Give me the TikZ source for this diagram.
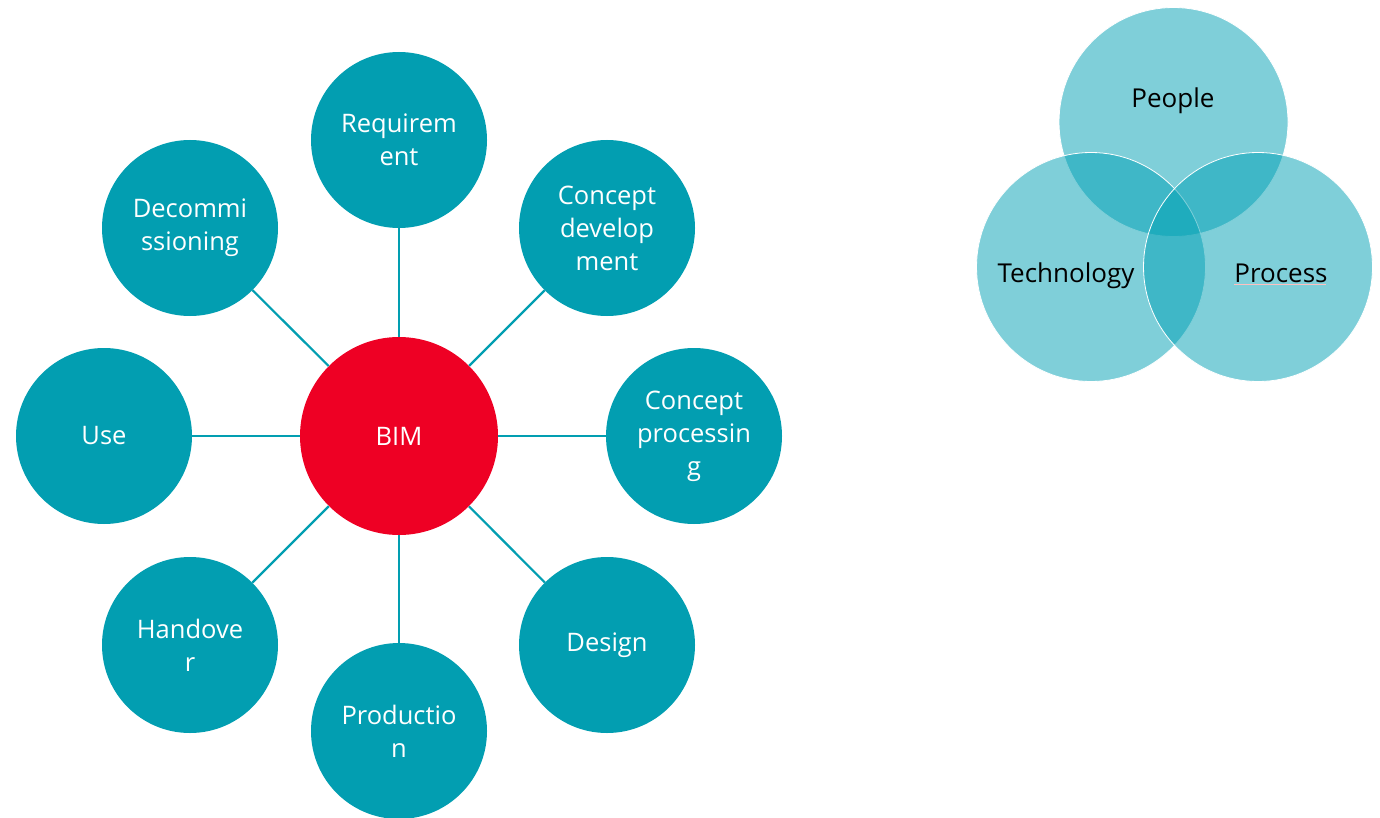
\documentclass[tikz,border=0pt]{standalone}
\usepackage{fontspec}
\setmainfont{Open Sans}
\definecolor{teal1}{RGB}{2,158,177}
\definecolor{bimred}{RGB}{238,0,36}
\definecolor{venn}{RGB}{0,160,180}
\begin{document}
\begin{tikzpicture}[x=1pt,y=-1pt,
  stage/.style={circle,fill=teal1,minimum size=176pt,inner sep=0pt,text=white,align=center,font=\fontsize{25.5}{33}\selectfont},
  hub/.style={circle,fill=bimred,minimum size=198pt,inner sep=0pt,text=white,font=\fontsize{25.5}{33}\selectfont},
  link/.style={draw=teal1,line width=2.2pt},
  vennc/.style={fill=venn,fill opacity=0.5,draw=white,draw opacity=1,line width=0.8pt},
  vlabel/.style={text=black,anchor=base,inner sep=0pt,font=\fontsize{26}{33}\selectfont}]
\useasboundingbox (0,0) rectangle (1380,818);
\node[hub] (bim) at (399,436) {BIM};
\node[stage] (req) at (399,140) {Requirem\\ent};
\node[stage] (cdev) at (607,228) {Concept\\develop\\ment};
\node[stage] (cproc) at (694,436) {Concept\\processin\\g};
\node[stage] (design) at (607,645) {Design};
\node[stage] (prod) at (399,731) {Productio\\n};
\node[stage] (hand) at (190,645) {Handove\\r};
\node[stage] (use) at (104,436) {Use};
\node[stage] (decom) at (190,228) {Decommi\\ssioning};
\foreach \n in {req,cdev,cproc,design,prod,hand,use,decom}
  \draw[link] (bim) -- (\n);
% Venn diagram
\path[vennc] (1173.5,122) circle (114.5pt);
\path[vennc] (1091,267) circle (114.5pt);
\path[vennc] (1258,267) circle (114.5pt);
\node[vlabel] (people) at (1173,108) {People};
\node[vlabel] (tech) at (1066,282) {Technology};
\node[vlabel] (process) at (1281,282) {Process};
\draw[red!25,line width=0.6pt] (process.base west) ++(0,2.5) -- ++(92,0);
\end{tikzpicture}
\end{document}
